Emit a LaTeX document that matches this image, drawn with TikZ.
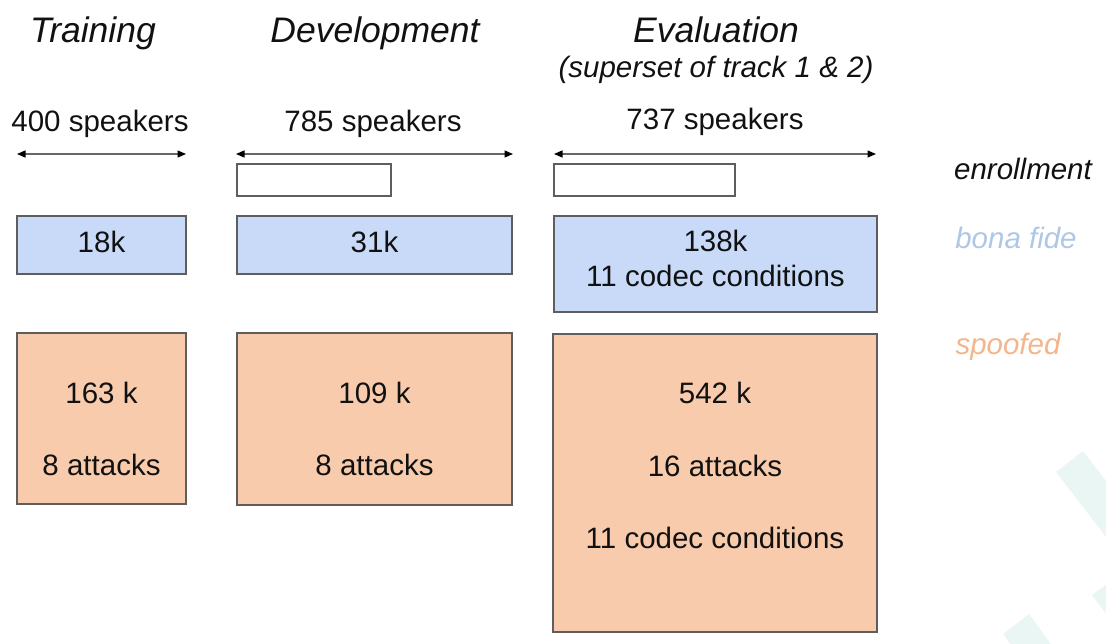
\documentclass[tikz,border=0pt]{standalone}
\usepackage{fontspec}
\setmainfont{Liberation Sans}
\usetikzlibrary{arrows.meta}

\definecolor{inkblack}{HTML}{111111}
\definecolor{boxgray}{HTML}{5E5E5E}
\definecolor{arrowgray}{HTML}{666666}
\definecolor{bonablue}{HTML}{C9DAF8}
\definecolor{spoofor}{HTML}{F8CBAD}
\definecolor{bonalabel}{HTML}{AEC7E6}
\definecolor{spooflabel}{HTML}{F4B58C}
\definecolor{tealwash}{HTML}{EAF6F4}

\newcommand{\titlefont}{\fontsize{35.5}{40}\selectfont\itshape}
\newcommand{\bodyfont}{\fontsize{29.5}{34}\selectfont}

\tikzset{
  panel/.style={draw=boxgray, line width=1.3pt, inner sep=0pt},
  bonabox/.style={panel, fill=bonablue},
  spoofbox/.style={panel, fill=spoofor},
  enrolbox/.style={panel, fill=white},
  caption/.style={font=\bodyfont, text=inkblack, anchor=base, inner sep=0pt},
  heading/.style={font=\titlefont, text=inkblack, anchor=base, inner sep=0pt},
  legend/.style={font=\bodyfont\itshape, anchor=base, inner sep=0pt},
  span/.style={arrows={Triangle[length=8.5pt,width=7pt,color=black,fill=black]-Triangle[length=8.5pt,width=7pt,color=black,fill=black]},
               draw=arrowgray, line width=1.2pt},
}

\begin{document}
\begin{tikzpicture}[x=1pt, y=-1pt]
\useasboundingbox (0,0) rectangle (1106,644);

% faint template stripes, lower right corner
\begin{scope}
  \clip (0,0) rectangle (1106,644);
  \fill[tealwash] (1056,472) -- (1083,451) -- (1160,551) -- (1133,572) -- cycle;
  \fill[tealwash] (1003,634) -- (1029,614) -- (1080,684) -- (1054,704) -- cycle;
  \fill[tealwash] (1092,595) -- (1112,580) -- (1165,650) -- (1145,665) -- cycle;
\end{scope}

% column headings
\node[heading] (ttrain) at (93,43) {Training};
\node[heading] (tdev)   at (375,43) {Development};
\node[heading] (teval)  at (716,43) {Evaluation};
\node[caption, font=\bodyfont\itshape] (tsuper) at (716,78) {(superset of track 1 \& 2)};

% speaker counts
\node[caption] (strain) at (100,132) {400 speakers};
\node[caption] (sdev)   at (373,132) {785 speakers};
\node[caption] (seval)  at (715,130) {737 speakers};

% speaker ranges
\coordinate (rtrainL) at (17,154);  \coordinate (rtrainR) at (186,154);
\coordinate (rdevL)   at (236,154); \coordinate (rdevR)   at (513,154);
\coordinate (revalL)  at (554,154); \coordinate (revalR)  at (876,154);
\draw[span] (rtrainL) -- (rtrainR);
\draw[span] (rdevL) -- (rdevR);
\draw[span] (revalL) -- (revalR);

% enrollment
\node[enrolbox, minimum width=154pt, minimum height=32pt] (edev)  at (314,180) {};
\node[enrolbox, minimum width=181pt, minimum height=32pt] (eeval) at (644.5,180) {};

% bona fide
\node[bonabox, minimum width=169pt, minimum height=58pt] (btrain) at (101.5,245) {};
\node[bonabox, minimum width=275pt, minimum height=58pt] (bdev)   at (374.5,245) {};
\node[bonabox, minimum width=323pt, minimum height=96pt] (beval)  at (715.5,264) {};
\node[caption] (btraint) at (101.5,252.5) {18k};
\node[caption] (bdevt)   at (374.5,252.5) {31k};
\node[caption] (bevalt)  at (715.5,252) {138k};
\node[caption] (bevalc)  at (715.5,287) {11 codec conditions};

% spoofed
\node[spoofbox, minimum width=169pt, minimum height=171pt] (ptrain) at (101.5,418.5) {};
\node[spoofbox, minimum width=275pt, minimum height=172pt] (pdev)   at (374.5,419) {};
\node[spoofbox, minimum width=324pt, minimum height=298pt] (peval)  at (715,483) {};
\node[caption] (ptraint) at (101.5,403.5) {163 k};
\node[caption] (ptraina) at (101.5,475.5) {8 attacks};
\node[caption] (pdevt)   at (374.5,403.5) {109 k};
\node[caption] (pdeva)   at (374.5,475.5) {8 attacks};
\node[caption] (pevalt)  at (715,403.5) {542 k};
\node[caption] (pevala)  at (715,476.5) {16 attacks};
\node[caption] (pevalc)  at (715,548.5) {11 codec conditions};

% row legend
\node[legend, text=inkblack]   (lenrol) at (1023,180) {enrollment};
\node[legend, text=bonalabel]  (lbona)  at (1016,249) {bona fide};
\node[legend, text=spooflabel] (lspoof) at (1008,355) {spoofed};
\end{tikzpicture}
\end{document}
